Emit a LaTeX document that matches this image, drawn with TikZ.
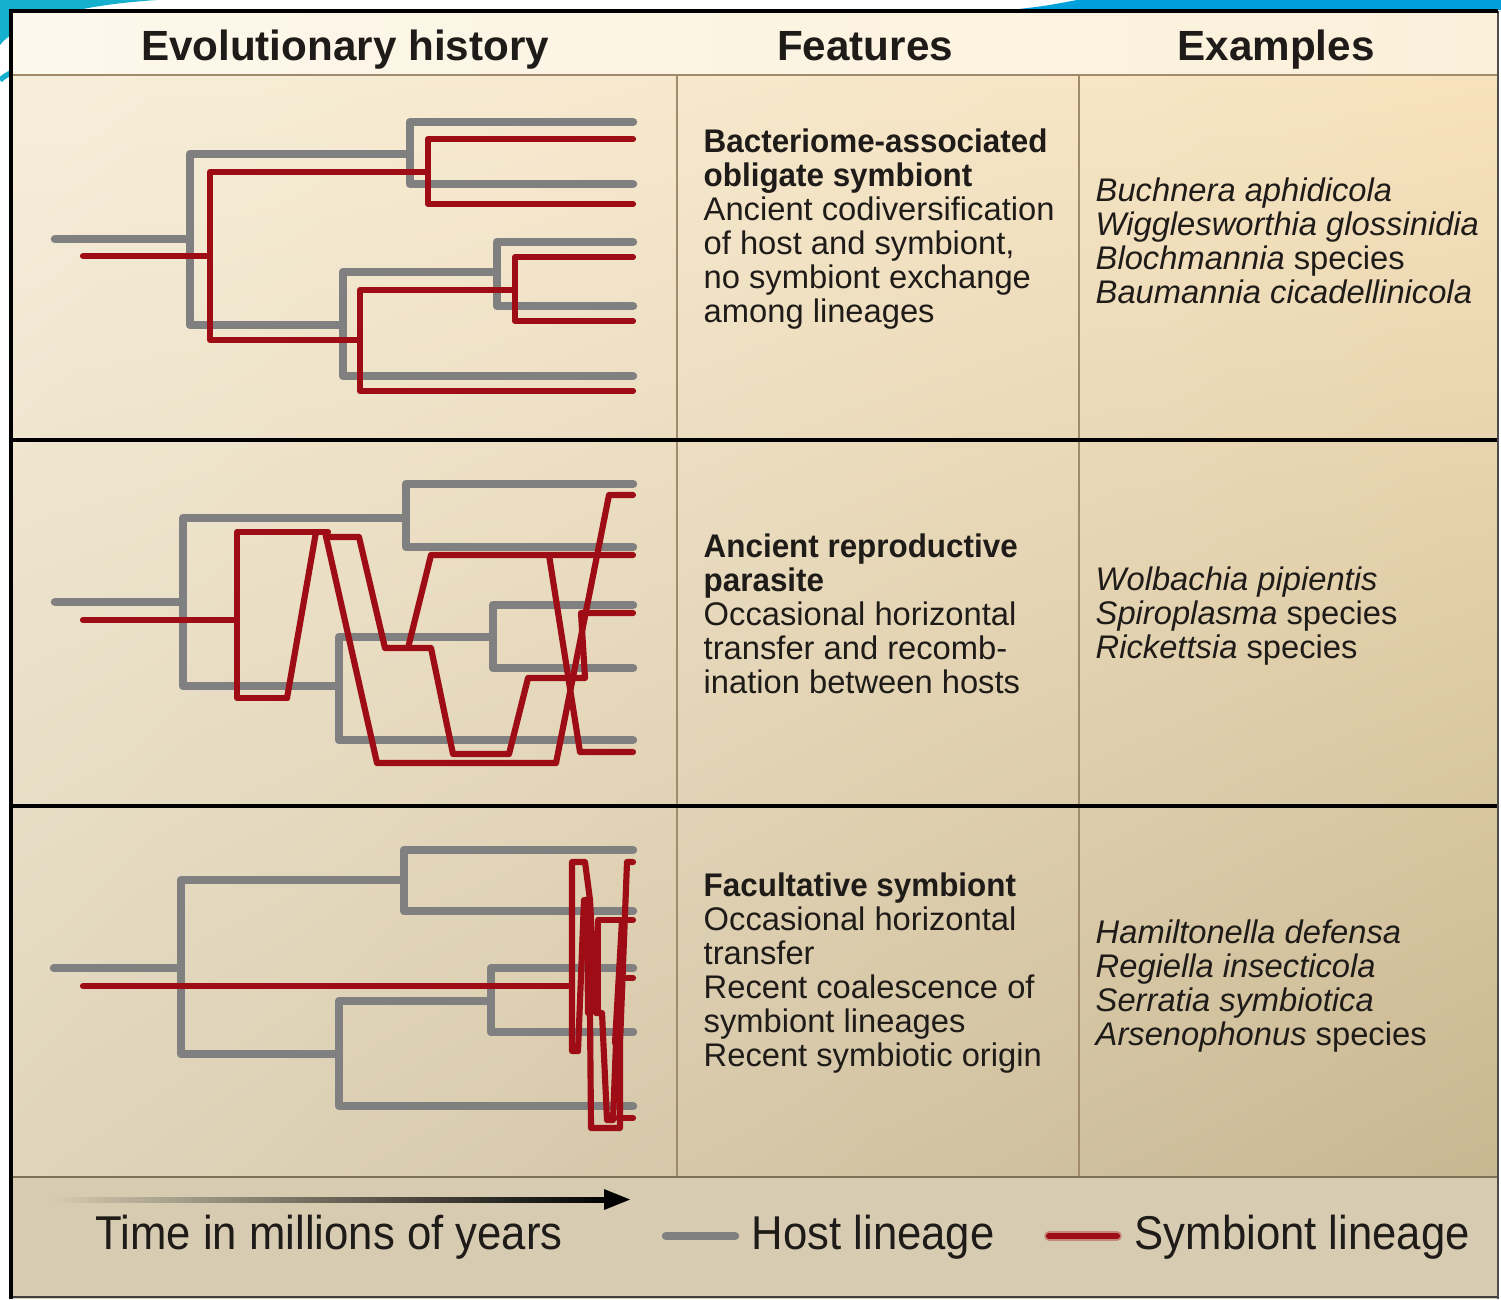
\documentclass[tikz,border=0pt]{standalone}
\usepackage{fontspec}
\setmainfont{Liberation Sans}
\newfontfamily\featbf{Liberation Sans}[FakeStretch=0.96]
\newfontfamily\legfont{Liberation Sans}[FakeStretch=0.92]
\usetikzlibrary{shadings}
\definecolor{hostgray}{RGB}{128,128,128}
\definecolor{symbred}{RGB}{158,12,22}
\definecolor{txtcol}{RGB}{30,27,24}
\definecolor{rulecol}{RGB}{160,140,108}
\definecolor{legbg}{RGB}{215,204,178}
\definecolor{cyanband}{RGB}{20,176,206}
\definecolor{blueband}{RGB}{0,160,220}
\begin{document}
\begin{tikzpicture}[x=0.01cm,y=-0.01cm,
    host/.style={hostgray, line width=2.4pt, line cap=round, line join=round},
    symb/.style={symbred, line width=1.75pt, line cap=round, line join=round},
    headtxt/.style={anchor=base, inner sep=0pt, text=txtcol, font=\fontsize{12}{14}\selectfont\bfseries},
    feattxt/.style={anchor=west, align=left, inner sep=0pt, text=txtcol, font=\fontsize{9.3}{9.67}\selectfont},
    legtxt/.style={anchor=west, inner sep=0pt, text=txtcol, font=\legfont\fontsize{13.5}{15}\selectfont}]
  \useasboundingbox (0,0) rectangle (1501,1299);
  \fill[white] (0,0) rectangle (1501,1299);
  % slide decoration
  \fill[cyanband] (0,0) -- (157,0) .. controls (80,5) and (20,20) .. (0,45) -- cycle;
  \fill[blueband] (1077,0) -- (1501,0) -- (1501,10) -- (1010,10) .. controls (1045,6) .. cycle;
  \draw[cyanband, line width=1.5pt] (0,80) .. controls (5,76) .. (12,72);
  % backgrounds
  \shade[left color={rgb,255:red,253;green,248;blue,236}, right color={rgb,255:red,251;green,240;blue,218}] (11,11) rectangle (1498,75);
  \shade[upper left={rgb,255:red,247;green,238;blue,218}, upper right={rgb,255:red,247;green,226;blue,188},
         lower left={rgb,255:red,224;green,213;blue,188}, lower right={rgb,255:red,200;green,183;blue,145}] (11,75) rectangle (1498,1177);
  \fill[legbg] (11,1177) rectangle (1498,1299);
  % rules
  \draw[rulecol, line width=0.6pt] (11,75) -- (1498,75);
  \foreach \cx in {677,1079}
    \draw[rulecol, line width=0.6pt] (\cx,75) -- (\cx,1177);
  \draw[rulecol!80!black, line width=0.8pt] (11,1177) -- (1498,1177);
  \foreach \ry in {440,806}
    \draw[black, line width=1pt] (11,\ry) -- (1498,\ry);
  \draw[black!75, line width=0.6pt] (11,1297) -- (1498,1297);
  \draw[black!70, line width=0.8pt] (1498,11) -- (1498,1299);
  \draw[black, line width=1.3pt] (11,1299) -- (11,11) -- (1498,11);

  % headers
  \node[headtxt] (hevol) at (345,60) {Evolutionary history};
  \node[headtxt] (hfeat) at (865,60) {Features};
  \node[headtxt] (hexam) at (1276,60) {Examples};

  % panel 1: codiversification
  \draw[host] (55,239) -- (190,239);
  \draw[host] (633,122) -- (410,122) -- (410,184) -- (633,184);
  \draw[host] (410,154) -- (190,154) -- (190,325) -- (343,325);
  \draw[host] (497,272) -- (343,272) -- (343,376) -- (633,376);
  \draw[host] (633,242) -- (497,242) -- (497,306) -- (633,306);
  \draw[symb] (83,256) -- (210,256);
  \draw[symb] (633,139) -- (428,139) -- (428,204) -- (633,204);
  \draw[symb] (428,172) -- (210,172) -- (210,340) -- (360,340);
  \draw[symb] (515,290) -- (360,290) -- (360,391) -- (633,391);
  \draw[symb] (633,257) -- (515,257) -- (515,321) -- (633,321);

  % panel 2: reproductive parasite
  \draw[host] (55,602) -- (183,602);
  \draw[host] (633,484) -- (406,484) -- (406,547) -- (633,547);
  \draw[host] (406,518) -- (183,518) -- (183,686) -- (339,686);
  \draw[host] (493,637) -- (339,637) -- (339,740) -- (633,740);
  \draw[host] (633,605) -- (493,605) -- (493,668) -- (633,668);
  \draw[symb] (83,620) -- (237,620);
  \draw[symb] (287,698) -- (237,698) -- (237,532) -- (328,532);
  \draw[symb] (287,698) -- (316,532);
  \draw[symb] (325,532) -- (377,763) -- (556,763) -- (609,495) -- (633,495);
  \draw[symb] (326,537) -- (359,537) -- (385,648) -- (431,648) -- (453,754) -- (509,754)
    -- (528,678) -- (585,678) -- (581,613) -- (633,613);
  \draw[symb] (408,648) -- (431,555) -- (633,555);
  \draw[symb] (549,555) -- (580,752) -- (633,752);

  % panel 3: facultative symbiont
  \draw[host] (54,968) -- (181,968);
  \draw[host] (633,850) -- (404,850) -- (404,911) -- (633,911);
  \draw[host] (404,880) -- (181,880) -- (181,1054) -- (339,1054);
  \draw[host] (491,1001) -- (339,1001) -- (339,1106) -- (633,1106);
  \draw[host] (633,968) -- (491,968) -- (491,1032) -- (633,1032);
  \draw[symb] (83,986) -- (572,986);
  \draw[symb] (578,1051) -- (572,1051) -- (572,862) -- (585,862) -- (590,900) -- (596,1013)
    -- (602,1013) -- (607,1120) -- (613,1120) -- (616,1043) -- (620,1043) -- (627,862) -- (633,862);
  \draw[symb] (578,1051) -- (584,900) -- (589,900) -- (591,1128) -- (620,1128) -- (620,1043);
  \draw[symb] (587,900) -- (588,1013);
  \draw[symb] (598,1013) -- (598,920) -- (633,920);
  \draw[symb] (615,1043) -- (622,920);
  \draw[symb] (624,978) -- (633,978);
  \draw[symb] (618,1118) -- (633,1118);

  % features
  \node[feattxt] (feat1) at (703,229) {{\featbf\bfseries Bacteriome-associated}\\
    {\featbf\bfseries obligate symbiont}\\ Ancient codiversification\\ of host and symbiont,\\
    no symbiont exchange\\ among lineages};
  \node[feattxt] (feat2) at (703,614) {{\featbf\bfseries Ancient reproductive}\\
    {\featbf\bfseries parasite}\\ Occasional horizontal\\ transfer and recomb-\\ ination between hosts};
  \node[feattxt] (feat3) at (703,973) {{\featbf\bfseries Facultative symbiont}\\
    Occasional horizontal\\ transfer\\ Recent coalescence of\\ symbiont lineages\\ Recent symbiotic origin};

  % examples
  \node[feattxt] (exam1) at (1095,241) {\textit{Buchnera aphidicola}\\ \textit{Wigglesworthia glossinidia}\\
    \textit{Blochmannia} species\\ \textit{Baumannia cicadellinicola}};
  \node[feattxt] (exam2) at (1095,616) {\textit{Wolbachia pipientis}\\ \textit{Spiroplasma} species\\
    \textit{Rickettsia} species};
  \node[feattxt] (exam3) at (1095,986) {\textit{Hamiltonella defensa}\\ \textit{Regiella insecticola}\\
    \textit{Serratia symbiotica}\\ \textit{Arsenophonus} species};

  % legend
  \shade[left color=legbg, right color=black] (50,1197) rectangle (612,1202);
  \fill[black] (604,1189) -- (630,1199.5) -- (604,1210) -- cycle;
  \node[legtxt] (ltime) at (95,1237) {Time in millions of years};
  \draw[host] (666,1236) -- (735,1236);
  \node[legtxt] (lhost) at (751,1237) {Host lineage};
  \draw[symbred!35!legbg, line width=2.8pt, line cap=round] (1049,1236) -- (1117,1236);
  \draw[symb] (1049,1236) -- (1117,1236);
  \node[legtxt] (lsymb) at (1134,1237) {Symbiont lineage};
\end{tikzpicture}
\end{document}
